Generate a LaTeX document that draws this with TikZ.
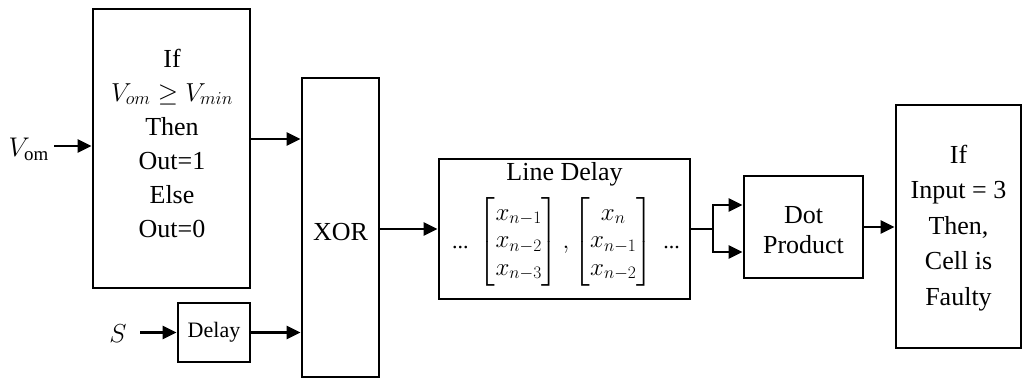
\documentclass[tikz,border=0pt]{standalone}
\usepackage{fix-cm}
\usepackage{amsmath}
\usepackage{fontspec}
\setmainfont{Liberation Serif}
\usetikzlibrary{arrows.meta}

\tikzset{
  blk/.style={draw, line width=2.9pt, inner sep=0pt},
  txt/.style={font=\fontsize{26}{34}\selectfont, align=center, inner sep=0pt},
  wire/.style={line width=2.7pt},
  arr/.style={wire, -{Triangle[length=14pt,width=13pt]}}
}
\newcommand{\gapdots}{\text{\fontsize{22}{24}\selectfont...}}

\begin{document}
\begin{tikzpicture}[x=1pt, y=-1pt]
\useasboundingbox (0,0) rectangle (1024,380);

% comparator block
\node[blk, minimum width=157pt, minimum height=279pt] (cmp) at (171.5,148.5) {};
\node[txt] (cmptxt) at (172,143)
  {If\\$V_{om}\geq V_{min}$\\Then\\Out=1\\Else\\Out=0};

% delay on the S signal
\node[blk, minimum width=72pt, minimum height=59pt,
      font=\fontsize{22}{24}\selectfont] (dly) at (214,332.5) {Delay};

% XOR gate
\node[blk, minimum width=77pt, minimum height=299pt, text height=26pt,
      font=\fontsize{26}{30}\selectfont] (xor) at (340.5,227.5) {XOR};

% line delay buffer
\node[blk, minimum width=251pt, minimum height=140pt] (ld) at (564.5,229) {};
\node[txt] (ldt) at (564.5,174) {Line Delay};
\node[txt, font=\fontsize{25}{27.5}\selectfont] (ldm) at (566,242)
  {$\gapdots\ \begin{bmatrix} x_{n-1}\\ x_{n-2}\\ x_{n-3}\end{bmatrix},
   \begin{bmatrix} x_{n}\\ x_{n-1}\\ x_{n-2}\end{bmatrix}\ \gapdots$};

% dot product
\node[blk, minimum width=119pt, minimum height=102pt] (dot) at (803.5,227) {};
\node[txt, font=\fontsize{26}{30}\selectfont] (dott) at (803.5,230) {Dot\\Product};

% fault decision
\node[blk, minimum width=125pt, minimum height=243pt] (fin) at (958.5,226.5) {};
\node[txt, font=\fontsize{26}{35.5}\selectfont] (fint) at (958.5,228)
  {If\\Input = 3\\Then,\\Cell is\\Faulty};

% inputs
\node[inner sep=0pt, anchor=east, font=\fontsize{27}{30}\selectfont] (vom) at (49,149) {$V_{\mathrm{om}}$};
\node[inner sep=0pt, font=\fontsize{26}{30}\selectfont] (s) at (118,334) {$S$};

\coordinate (vin) at (54,146);
\coordinate (sin) at (140,332.5);
\coordinate (c1) at ([yshift=9.5pt]cmp.east);
\coordinate (sp) at (713,229);
\coordinate (d1) at ([yshift=22pt]dot.west);
\coordinate (d2) at ([yshift=-25pt]dot.west);

% connectors
\draw[arr] (vin) -- (vin -| cmp.west);
\draw[arr] (sin) -- (sin -| dly.west);
\draw[arr] (c1) -- (c1 -| xor.west);
\draw[arr] (dly.east) -- (dly.east -| xor.west);
\draw[arr] (ld.west -| xor.east) -- (ld.west);
\draw[wire] (ld.east) -- (sp);
\draw[arr] (sp) |- (d1);
\draw[arr] (sp) |- (d2);
\draw[arr] (dot.east) -- (dot.east -| fin.west);
\end{tikzpicture}
\end{document}
